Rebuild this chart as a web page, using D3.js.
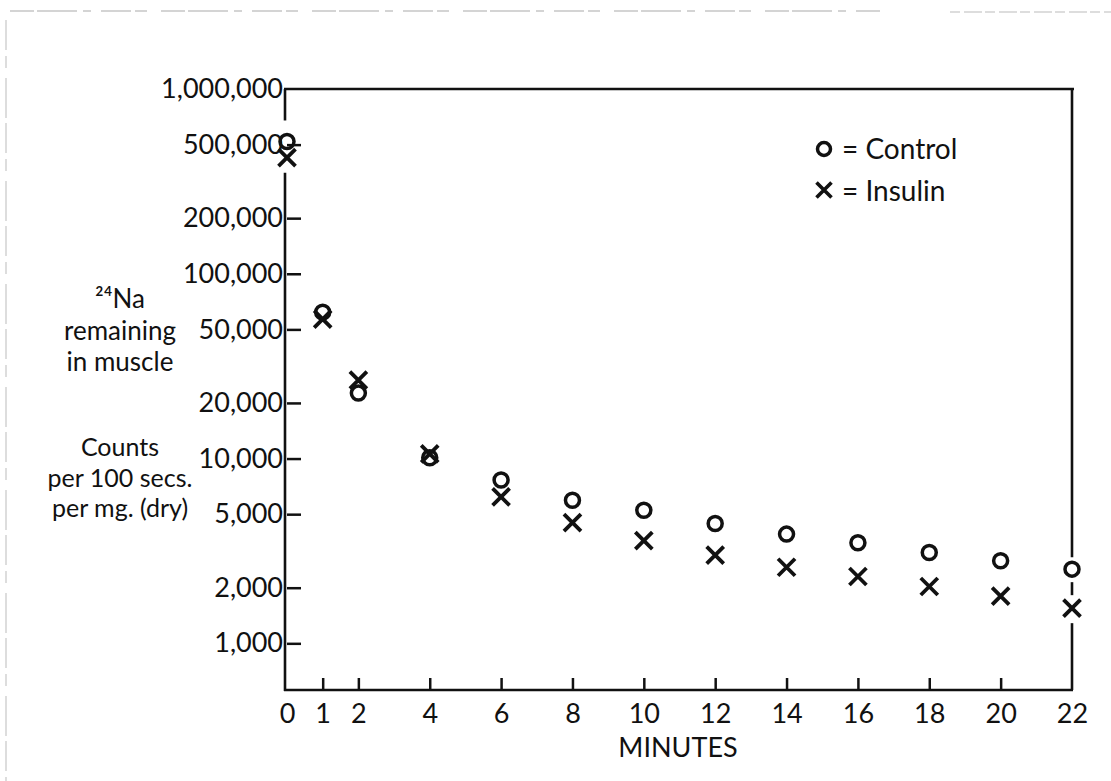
<!DOCTYPE html>
<html>
<head>
<meta charset="utf-8">
<script src="https://cdn.jsdelivr.net/npm/d3@7"></script>
<style>
  body { margin: 0; background: #fff; }
  svg text { font-family: Lato, "Open Sans", sans-serif; fill: #111; }
</style>
</head>
<body>
<div class="canvas"></div>
<script>
const svgWidth = 1111;
const svgHeight = 781;

// data (log scale, so values are estimates)
const minutes = [0, 1, 2, 4, 6, 8, 10, 12, 14, 16, 18, 20, 22];
const control = [520000, 62000, 22600, 10100, 7650, 5950, 5250, 4450, 3900, 3500, 3100, 2800, 2520];
const insulin = [425000, 56800, 26600, 10600, 6200, 4500, 3600, 3000, 2580, 2300, 2030, 1800, 1550];

const yTicks = [1000000, 500000, 200000, 100000, 50000, 20000, 10000, 5000, 2000, 1000];
const xTicks = [0, 1, 2, 4, 6, 8, 10, 12, 14, 16, 18, 20, 22];

const leftLabelTop = ['²⁴Na', 'remaining', 'in muscle'];
const leftLabelBottom = ['Counts', 'per 100 secs.', 'per mg. (dry)'];

const svg = d3.select('.canvas')
    .append('svg')
    .attr('width', svgWidth)
    .attr('height', svgHeight);

// plot box edges
const boxLeft = 287, boxRight = 1072, boxTop = 89, boxBottom = 690;

// scales
const x = d3.scaleLinear()
    .domain([0, 22])
    .range([boxLeft, boxRight]);

// bottom of the box sits a bit under 1,000
const y = d3.scaleLog()
    .domain([559, 1000000])
    .range([boxBottom, boxTop]);

// scan edge (faint broken frame)
svg.append('line')
    .attr('x1', 10).attr('x2', 880).attr('y1', 11).attr('y2', 11)
    .attr('stroke', '#aaa').attr('stroke-width', 1.2)
    .attr('stroke-dasharray', '24 3 40 6 8 10 30 4 12 14');
svg.append('line')
    .attr('x1', 950).attr('x2', 1111).attr('y1', 12).attr('y2', 12)
    .attr('stroke', '#bbb').attr('stroke-width', 1.2)
    .attr('stroke-dasharray', '10 4 18 3');
svg.append('line')
    .attr('x1', 6).attr('x2', 6).attr('y1', 20).attr('y2', 781)
    .attr('stroke', '#bbb').attr('stroke-width', 1)
    .attr('stroke-dasharray', '30 6 12 10 40 5');

// axes (ticks point inwards)
const yAxis = d3.axisLeft(y)
    .tickValues(yTicks)
    .tickSize(-14)
    .tickPadding(4)
    .tickFormat(d3.format(','));

const xAxis = d3.axisBottom(x)
    .tickValues(xTicks)
    .tickSize(-12)
    .tickPadding(14)
    .tickFormat(d => d);

const yAxisGroup = svg.append('g')
    .attr('transform', `translate(${boxLeft}, 0)`)
    .call(yAxis);

const xAxisGroup = svg.append('g')
    .attr('transform', `translate(0, ${boxBottom})`)
    .call(xAxis);

[yAxisGroup, xAxisGroup].forEach(g => {
    g.select('.domain').remove();
    g.selectAll('.tick line').attr('stroke', '#111').attr('stroke-width', 2.5);
    g.selectAll('.tick text').attr('font-size', 27).attr('fill', '#111');
});
xAxisGroup.selectAll('.tick').filter(d => d === 0 || d === 22).select('line').remove();
yAxisGroup.selectAll('.tick').filter(d => d === 1000000).select('line').remove();

// frame, broken where the first and last markers sit on it
const frame = svg.append('g')
    .attr('stroke', '#111')
    .attr('stroke-width', 2.6)
    .attr('fill', 'none');

const last = minutes.length - 1;
const leftSegs = [
    [boxTop, y(control[0]) - 21],
    [y(insulin[0]) + 15, boxBottom + 1]
];
const rightSegs = [
    [boxTop, y(control[last]) - 12],
    [y(control[last]) + 13, y(insulin[last]) - 13],
    [y(insulin[last]) + 15, boxBottom]
];
leftSegs.forEach(s => frame.append('line')
    .attr('x1', x(0) - 2).attr('x2', x(0) - 2).attr('y1', s[0]).attr('y2', s[1]));
rightSegs.forEach(s => frame.append('line')
    .attr('x1', x(22)).attr('x2', x(22)).attr('y1', s[0]).attr('y2', s[1]));
frame.append('line')
    .attr('x1', x(0) - 3).attr('x2', x(22) + 2).attr('y1', boxTop).attr('y2', boxTop);
frame.append('line')
    .attr('x1', x(0) - 3).attr('x2', x(22) + 1).attr('y1', boxBottom).attr('y2', boxBottom);

// markers
const cross = 8.5;
const crossPath = `M${-cross},${-cross}L${cross},${cross}M${-cross},${cross}L${cross},${-cross}`;

svg.append('g').selectAll('circle')
    .data(minutes.map((m, i) => ({ m, v: control[i] })))
    .enter()
    .append('circle')
        .attr('cx', d => x(d.m))
        .attr('cy', d => y(d.v))
        .attr('r', 7)
        .attr('fill', 'none')
        .attr('stroke', '#111')
        .attr('stroke-width', 3.5);

svg.append('g').selectAll('path')
    .data(minutes.map((m, i) => ({ m, v: insulin[i] })))
    .enter()
    .append('path')
        .attr('transform', d => `translate(${x(d.m)}, ${y(d.v)})`)
        .attr('d', crossPath)
        .attr('fill', 'none')
        .attr('stroke', '#111')
        .attr('stroke-width', 3.8);

// legend
const legend = svg.append('g');
legend.append('circle')
    .attr('cx', 824).attr('cy', 149).attr('r', 6.5)
    .attr('fill', 'none').attr('stroke', '#111').attr('stroke-width', 3.5);
legend.append('path')
    .attr('transform', 'translate(824, 190)')
    .attr('d', 'M-7.5,-7.5L7.5,7.5M-7.5,7.5L7.5,-7.5')
    .attr('fill', 'none').attr('stroke', '#111').attr('stroke-width', 3.6);
legend.append('text')
    .attr('x', 842).attr('y', 159)
    .attr('font-size', 28)
    .text('= Control');
legend.append('text')
    .attr('x', 842).attr('y', 201)
    .attr('font-size', 28)
    .text('= Insulin');

// left label block
const labelX = 120;
svg.append('g').selectAll('text')
    .data(leftLabelTop)
    .enter()
    .append('text')
        .attr('x', labelX)
        .attr('y', (d, i) => 308 + i * 31.5)
        .attr('text-anchor', 'middle')
        .attr('font-size', 26)
        .text(d => d);

svg.append('g').selectAll('text')
    .data(leftLabelBottom)
    .enter()
    .append('text')
        .attr('x', labelX)
        .attr('y', (d, i) => 456 + i * 30.5)
        .attr('text-anchor', 'middle')
        .attr('font-size', 25)
        .text(d => d);

// x axis title
svg.append('text')
    .attr('x', 678)
    .attr('y', 757)
    .attr('text-anchor', 'middle')
    .attr('font-size', 27)
    .text('MINUTES');
</script>
</body>
</html>
